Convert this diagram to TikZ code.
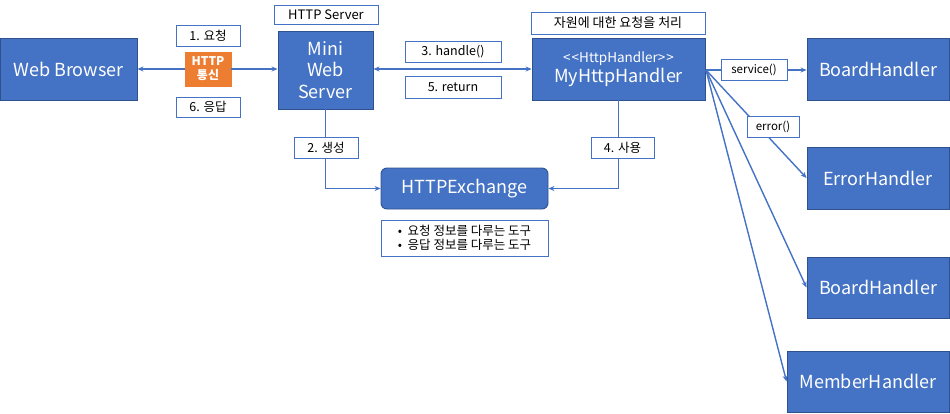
\documentclass[tikz,border=0pt]{standalone}
\usepackage{fontspec}
\setmainfont{Noto Sans CJK KR}
\usetikzlibrary{arrows.meta}
\definecolor{boxblue}{HTML}{4472C4}
\definecolor{edgeblue}{HTML}{2F528F}
\definecolor{orangebox}{HTML}{ED7D31}
\tikzset{
  mainbox/.style={draw=edgeblue, line width=0.9pt, fill=boxblue, text=white, inner sep=0pt, font=\fontsize{18}{21.5}\selectfont, align=center},
  labelbox/.style={draw=boxblue, line width=0.8pt, fill=white, text=black, inner sep=0pt, font=\fontsize{12.5}{15}\selectfont, align=center},
  conn/.style={draw=boxblue, line width=1.4pt, -{Stealth[length=6pt,width=5pt]}},
  conn2/.style={draw=boxblue, line width=1.4pt, {Stealth[length=6pt,width=5pt]}-{Stealth[length=6pt,width=5pt]}},
  plain/.style={draw=boxblue, line width=1.4pt}
}
\begin{document}
\begin{tikzpicture}[x=1pt,y=-1pt]
\useasboundingbox (0,0) rectangle (950,413);
% main boxes
\node[mainbox, minimum width=137pt, minimum height=62pt] (wb) at (68.5,69) {Web Browser};
\node[mainbox, minimum width=95pt, minimum height=78pt] (mws) at (325.5,70) {Mini\\Web\\Server};
\node[draw=orangebox, fill=orangebox, text=white, inner sep=0pt, minimum width=46pt, minimum height=34pt, font=\bfseries\fontsize{12}{14}\selectfont, align=center] (http) at (208,69) {HTTP\\통신};
\node[mainbox, minimum width=173pt, minimum height=62pt] (mhh) at (618.5,69) {{\fontsize{13.5}{15}\selectfont {<}\kern1pt{<}HttpHandler{>}\kern1pt{>}}\\[-1pt]MyHttpHandler};
\node[mainbox, rounded corners=6pt, minimum width=167pt, minimum height=41pt] (hex) at (464.5,188.5) {HTTPExchange};
\node[mainbox, minimum width=142pt, minimum height=62pt] (bh1) at (878,69) {BoardHandler};
\node[mainbox, minimum width=142pt, minimum height=62pt] (eh) at (878,178) {ErrorHandler};
\node[mainbox, minimum width=142pt, minimum height=61pt] (bh2) at (878,287.5) {BoardHandler};
\node[mainbox, minimum width=162pt, minimum height=61pt] (mh) at (868,381.5) {MemberHandler};
\coordinate (fan) at (706,70);
% connectors
\draw[conn] (http.west) -- (wb.east |- http.west);
\draw[conn] (http.east) -- (mws.west |- http.east);
\draw[conn2] (mws.east |- mhh.west) -- (mhh.west);
\draw[conn] (mws.south) |- (hex.west);
\draw[conn] (mhh.south) |- (hex.east);
\draw[conn] (fan) -- (bh1.west |- fan);
\draw[conn] (fan) -- (eh.west);
\draw[conn] (fan) -- (bh2.west);
\draw[conn] (fan) -- (mh.west);
% label boxes
\node[labelbox, minimum width=104pt, minimum height=19pt, font=\fontsize{13}{15}\selectfont] (hs) at (326,14.5) {HTTP Server};
\node[labelbox, minimum width=64pt, minimum height=21pt] (req) at (208,35.5) {1. 요청};
\node[labelbox, minimum width=64pt, minimum height=20pt] (resp) at (208,107) {6. 응답};
\node[labelbox, minimum width=96pt, minimum height=21pt] (handle) at (453,51.5) {3. handle()};
\node[labelbox, minimum width=96pt, minimum height=22pt] (ret) at (453,87) {5. return};
\node[labelbox, minimum width=174pt, minimum height=22pt, font=\fontsize{13}{15}\selectfont] (res) at (618,23) {자원에 대한 요청을 처리};
\node[labelbox, minimum width=64pt, minimum height=21pt] (gen) at (326,147.5) {2. 생성};
\node[labelbox, minimum width=63pt, minimum height=21pt] (use) at (622.5,147.5) {4. 사용};
\node[labelbox, minimum width=167pt, minimum height=36pt, align=left, font=\fontsize{12.5}{14.5}\selectfont] (bul) at (464.5,238) {\textbullet\ \ 요청 정보를 다루는 도구\\\textbullet\ \ 응답 정보를 다루는 도구};
\node[labelbox, minimum width=66pt, minimum height=21pt, font=\fontsize{11.5}{13}\selectfont] (svc) at (754,69.5) {service()};
\node[labelbox, minimum width=52pt, minimum height=21pt, font=\fontsize{11.5}{13}\selectfont] (err) at (773,126.5) {error()};
\end{tikzpicture}
\end{document}
